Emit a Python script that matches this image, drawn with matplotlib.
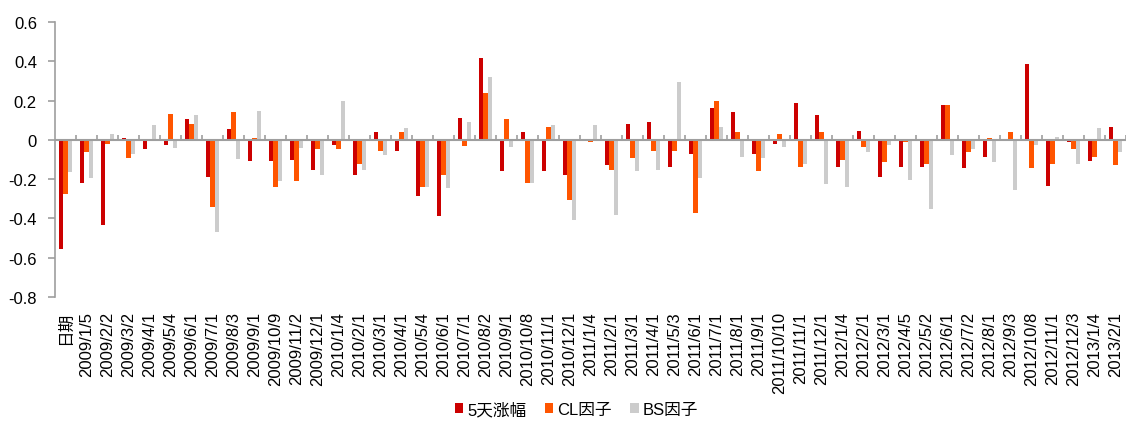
import matplotlib
matplotlib.use("Agg")
import matplotlib.pyplot as plt
import numpy as np

plt.rcParams['font.family'] = ['Liberation Sans', 'Noto Sans CJK SC', 'DejaVu Sans']
plt.rcParams['font.size'] = 12

# category labels (first one is the header cell that ended up on the axis)
dates = ['日期',
         '2009/1/5', '2009/2/2', '2009/3/2', '2009/4/1', '2009/5/4', '2009/6/1',
         '2009/7/1', '2009/8/3', '2009/9/1', '2009/10/9', '2009/11/2', '2009/12/1',
         '2010/1/4', '2010/2/1', '2010/3/1', '2010/4/1', '2010/5/4', '2010/6/1',
         '2010/7/1', '2010/8/2', '2010/9/1', '2010/10/8', '2010/11/1', '2010/12/1',
         '2011/1/4', '2011/2/1', '2011/3/1', '2011/4/1', '2011/5/3', '2011/6/1',
         '2011/7/1', '2011/8/1', '2011/9/1', '2011/10/10', '2011/11/1', '2011/12/1',
         '2012/1/4', '2012/2/1', '2012/3/1', '2012/4/5', '2012/5/2', '2012/6/1',
         '2012/7/2', '2012/8/1', '2012/9/3', '2012/10/8', '2012/11/1', '2012/12/3',
         '2013/1/4', '2013/2/1']

ret_5d = [-0.558, -0.219, -0.432, 0.010, -0.049, -0.027, 0.105, -0.188, 0.054, -0.108,
          -0.108, -0.100, -0.153, -0.027, -0.181, 0.039, -0.056, -0.284, -0.388, 0.112,
          0.415, -0.159, 0.039, -0.159, -0.181, -0.004, -0.130, 0.083, 0.092, -0.137,
          -0.071, 0.164, 0.142, -0.071, -0.019, 0.186, 0.127, -0.137, 0.047, -0.188,
          -0.137, -0.137, 0.180, -0.144, -0.085, -0.005, 0.386, -0.236, -0.012, -0.108,
          0.068]

cl_factor = [-0.276, -0.063, -0.019, -0.093, -0.003, 0.134, 0.083, -0.344, 0.142, 0.010,
             -0.239, -0.210, -0.047, -0.047, -0.122, -0.056, 0.039, -0.239, -0.181, -0.032,
             0.239, 0.105, -0.219, 0.068, -0.307, -0.012, -0.151, -0.093, -0.056, -0.056,
             -0.373, 0.200, 0.039, -0.159, 0.032, -0.137, 0.039, -0.100, -0.034, -0.115,
             -0.012, -0.122, 0.180, -0.063, 0.010, 0.039, -0.144, -0.122, -0.047, -0.085,
             -0.130]

bs_factor = [-0.166, -0.195, 0.032, -0.071, 0.076, -0.041, 0.127, -0.468, -0.098, 0.149,
             -0.210, -0.041, -0.181, 0.200, -0.153, -0.078, 0.061, -0.239, -0.247, 0.092,
             0.319, -0.034, -0.219, 0.076, -0.410, 0.076, -0.380, -0.159, -0.153, 0.297,
             -0.195, 0.068, -0.085, -0.093, -0.034, -0.122, -0.225, -0.241, -0.063, -0.027,
             -0.203, -0.351, -0.078, -0.047, -0.115, -0.254, -0.027, 0.017, -0.122, 0.061,
             -0.063]

series = [('5天涨幅', ret_5d, '#CC0000'),
          ('CL因子', cl_factor, '#FF5500'),
          ('BS因子', bs_factor, '#CCCCCC')]

fig = plt.figure(figsize=(11.37, 4.35), dpi=100)
ax = fig.add_axes([0.0484, 0.3149, 0.9419, 0.6322])

x = np.arange(len(dates))
w = 0.22
for i, (name, vals, col) in enumerate(series):
    ax.bar(x + (i - 1) * w, vals, width=w, color=col, label=name, zorder=2)

ax.set_xlim(-0.5, len(dates) - 0.5)
ax.set_ylim(-0.8, 0.6)

# category axis line at zero with small ticks between categories
axis_grey = '#9E9E9E'
ax.axhline(0, color=axis_grey, lw=1.5, zorder=3)
ax.vlines(x + 0.5, 0, 0.025, color=axis_grey, lw=1.2, zorder=3)

yt = np.arange(-0.8, 0.61, 0.2)
ax.set_yticks(yt)
ax.set_yticklabels(['0' if abs(v) < 1e-9 else f'{v:.1f}' for v in yt])
ax.tick_params(axis='y', length=5, width=1.2, color=axis_grey, pad=8)

ax.set_xticks(x)
ax.set_xticklabels(dates, rotation=90)
ax.tick_params(axis='x', length=0, pad=10)

for s in ['top', 'right', 'bottom']:
    ax.spines[s].set_visible(False)
ax.spines['left'].set_color(axis_grey)
ax.spines['left'].set_linewidth(1.2)

fig.legend(loc='center', bbox_to_anchor=(0.507, 0.057), ncol=3, frameon=False,
           handlelength=0.5, handleheight=0.5, handletextpad=0.25, columnspacing=1.1)

fig.savefig('out.png', dpi=100)
